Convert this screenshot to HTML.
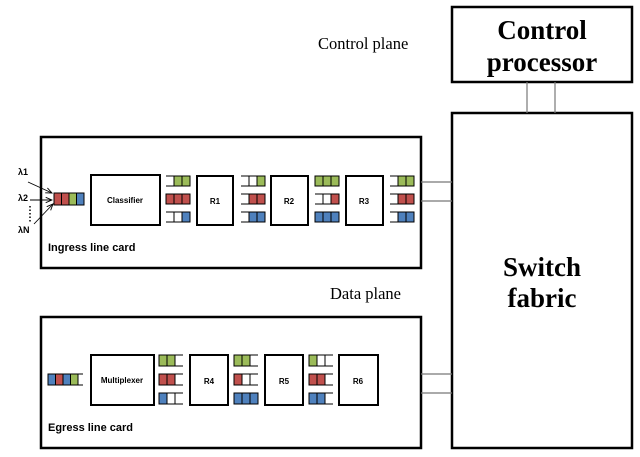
<!DOCTYPE html>
<html><head><meta charset="utf-8"><style>
html,body{margin:0;padding:0;background:#fff;}
svg{display:block;}
.b{font-family:"Liberation Sans",sans-serif;font-weight:bold;}
.s{font-family:"Liberation Serif",serif;}
</style></head><body>
<svg width="640" height="457" viewBox="0 0 640 457" xmlns="http://www.w3.org/2000/svg">
<defs><marker id="a" markerWidth="8" markerHeight="8" refX="7" refY="4" orient="auto"><path d="M0,1 L7,4 L0,7" fill="none" stroke="#000" stroke-width="1"/></marker></defs>
<g fill="none" stroke="#000" stroke-width="2.5">
<rect x="452" y="7" width="180" height="75"/>
<rect x="452" y="113" width="180" height="335"/>
<rect x="41" y="137" width="380" height="131"/>
<rect x="41" y="317" width="380" height="131"/>
</g>
<g stroke="#777" stroke-width="1.2">
<line x1="527" y1="82" x2="527" y2="113"/><line x1="555" y1="82" x2="555" y2="113"/>
<line x1="421" y1="182" x2="452" y2="182"/><line x1="421" y1="201" x2="452" y2="201"/>
<line x1="421" y1="374" x2="452" y2="374"/><line x1="421" y1="393" x2="452" y2="393"/>
</g>
<text x="318" y="49" class="s" font-size="16.5">Control plane</text>
<text x="330" y="299" class="s" font-size="16.5">Data plane</text>
<text x="542" y="39" class="s" font-size="27" font-weight="bold" text-anchor="middle">Control</text>
<text x="542" y="71" class="s" font-size="27" font-weight="bold" text-anchor="middle">processor</text>
<text x="542" y="276" class="s" font-size="27" font-weight="bold" text-anchor="middle">Switch</text>
<text x="542" y="307" class="s" font-size="27" font-weight="bold" text-anchor="middle">fabric</text>
<g fill="#fff" stroke="#000" stroke-width="2">
<rect x="91" y="175" width="69" height="50"/>
<rect x="197" y="176" width="36" height="49"/>
<rect x="271" y="176" width="37" height="49"/>
<rect x="346" y="176" width="37" height="49"/>
<rect x="91" y="355" width="63" height="50"/>
<rect x="190" y="355" width="38" height="50"/>
<rect x="265" y="355" width="38" height="50"/>
<rect x="339" y="355" width="39" height="50"/>
</g>
<g class="b" font-size="8" text-anchor="middle">
<text x="125" y="203">Classifier</text>
<text x="215" y="204">R1</text><text x="289" y="204">R2</text><text x="364" y="204">R3</text>
<text x="122" y="383">Multiplexer</text>
<text x="209" y="384">R4</text><text x="284" y="384">R5</text><text x="358" y="384">R6</text>
</g>
<text x="48" y="251" class="b" font-size="11">Ingress line card</text>
<text x="48" y="431" class="b" font-size="11">Egress line card</text>
<g class="b" font-size="9"><text x="18" y="175">λ1</text><text x="18" y="201">λ2</text><text x="18" y="233">λN</text></g>
<g stroke="#000" stroke-width="1.5" stroke-dasharray="1.5,2"><line x1="30" y1="206" x2="30" y2="222"/></g>
<g stroke="#000" stroke-width="0.9" marker-end="url(#a)">
<line x1="28" y1="182" x2="52" y2="193"/><line x1="30" y1="200" x2="52" y2="200"/><line x1="34" y1="224" x2="53" y2="204"/>
</g>
<g stroke="#000" stroke-width="1">
<rect x="54" y="193" width="7.5" height="12" fill="#c0504d"/><rect x="61.5" y="193" width="7.5" height="12" fill="#c0504d"/>
<rect x="69" y="193" width="7.5" height="12" fill="#9bbb59"/><rect x="76.5" y="193" width="7.5" height="12" fill="#4f81bd"/>
<rect x="48" y="374" width="7.5" height="11" fill="#4f81bd"/><rect x="55.5" y="374" width="7.5" height="11" fill="#c0504d"/>
<rect x="63" y="374" width="7.5" height="11" fill="#4f81bd"/><rect x="70.5" y="374" width="7.5" height="11" fill="#9bbb59"/>
<path d="M78,374 H83 M78,385 H83" fill="none"/>
</g>
<g stroke="#000" stroke-width="1" fill="none">
<path d="M166,176h8v10h-8M166,212h16v10h-16M174,212v10"/>
<rect x="174" y="176" width="8" height="10" fill="#9bbb59"/><rect x="182" y="176" width="8" height="10" fill="#9bbb59"/>
<rect x="166" y="194" width="8" height="10" fill="#c0504d"/><rect x="174" y="194" width="8" height="10" fill="#c0504d"/><rect x="182" y="194" width="8" height="10" fill="#c0504d"/>
<rect x="182" y="212" width="8" height="10" fill="#4f81bd"/>
<path d="M241,176h16v10h-16M249,176v10M241,194h8v10h-8M241,212h8v10h-8"/>
<rect x="257" y="176" width="8" height="10" fill="#9bbb59"/>
<rect x="249" y="194" width="8" height="10" fill="#c0504d"/><rect x="257" y="194" width="8" height="10" fill="#c0504d"/>
<rect x="249" y="212" width="8" height="10" fill="#4f81bd"/><rect x="257" y="212" width="8" height="10" fill="#4f81bd"/>
<path d="M315,194h16v10h-16M323,194v10"/>
<rect x="315" y="176" width="8" height="10" fill="#9bbb59"/><rect x="323" y="176" width="8" height="10" fill="#9bbb59"/><rect x="331" y="176" width="8" height="10" fill="#9bbb59"/>
<rect x="331" y="194" width="8" height="10" fill="#c0504d"/>
<rect x="315" y="212" width="8" height="10" fill="#4f81bd"/><rect x="323" y="212" width="8" height="10" fill="#4f81bd"/><rect x="331" y="212" width="8" height="10" fill="#4f81bd"/>
<path d="M390,176h8v10h-8M390,194h8v10h-8M390,212h8v10h-8"/>
<rect x="398" y="176" width="8" height="10" fill="#9bbb59"/><rect x="406" y="176" width="8" height="10" fill="#9bbb59"/>
<rect x="398" y="194" width="8" height="10" fill="#c0504d"/><rect x="406" y="194" width="8" height="10" fill="#c0504d"/>
<rect x="398" y="212" width="8" height="10" fill="#4f81bd"/><rect x="406" y="212" width="8" height="10" fill="#4f81bd"/>
<path d="M175,355h8M175,366h8M175,374h8M175,385h8M167,393h16M167,404h16M175,393v11"/>
<rect x="159" y="355" width="8" height="11" fill="#9bbb59"/><rect x="167" y="355" width="8" height="11" fill="#9bbb59"/>
<rect x="159" y="374" width="8" height="11" fill="#c0504d"/><rect x="167" y="374" width="8" height="11" fill="#c0504d"/>
<rect x="159" y="393" width="8" height="11" fill="#4f81bd"/>
<path d="M250,355h8M250,366h8M242,374h16M242,385h16M250,374v11"/>
<rect x="234" y="355" width="8" height="11" fill="#9bbb59"/><rect x="242" y="355" width="8" height="11" fill="#9bbb59"/>
<rect x="234" y="374" width="8" height="11" fill="#c0504d"/>
<rect x="234" y="393" width="8" height="11" fill="#4f81bd"/><rect x="242" y="393" width="8" height="11" fill="#4f81bd"/><rect x="250" y="393" width="8" height="11" fill="#4f81bd"/>
<path d="M317,355h16M317,366h16M325,355v11M325,374h8M325,385h8M325,393h8M325,404h8"/>
<rect x="309" y="355" width="8" height="11" fill="#9bbb59"/>
<rect x="309" y="374" width="8" height="11" fill="#c0504d"/><rect x="317" y="374" width="8" height="11" fill="#c0504d"/>
<rect x="309" y="393" width="8" height="11" fill="#4f81bd"/><rect x="317" y="393" width="8" height="11" fill="#4f81bd"/>
</g>
</svg>
</body></html>
